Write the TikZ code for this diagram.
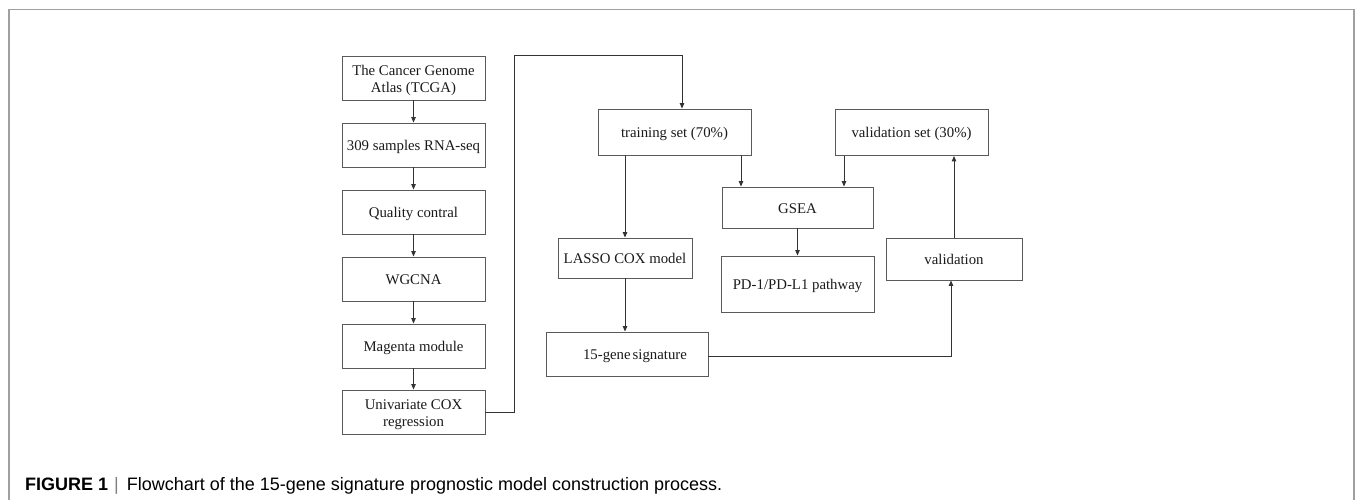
\documentclass[tikz,border=0pt]{standalone}
\usepackage{fontspec}
\setmainfont{Liberation Serif}
\newfontfamily\capfont{Liberation Sans}
\usetikzlibrary{arrows.meta}
\definecolor{boxline}{HTML}{5A5A5A}
\definecolor{conline}{HTML}{333333}
\definecolor{framecol}{HTML}{A0A0A0}
\definecolor{barcol}{HTML}{808080}
\definecolor{txt}{HTML}{1A1A1A}
\tikzset{
  fbox/.style={draw=boxline, line width=0.9pt, rectangle, inner sep=0pt, align=center,
    font=\fontsize{14.8}{17.5}\selectfont, text=txt},
  one/.style={text height=14pt, text depth=3pt},
  arr/.style={draw=conline, line width=0.9pt, -{Triangle[length=5.5pt,width=4.5pt]}},
  con/.style={draw=conline, line width=0.9pt}
}
\begin{document}
\begin{tikzpicture}[x=1pt,y=-1pt]
\useasboundingbox (0,0) rectangle (1355,500);
% frame
\draw[framecol, line width=1.2pt] (9,500) -- (9,9.5) -- (1354,9.5) -- (1354,500);
% left column
\node[fbox, minimum width=143, minimum height=44] (tcga) at (413.5,78) {\rule{0pt}{15pt}The Cancer Genome\\Atlas (TCGA)};
\node[fbox, one, minimum width=143, minimum height=44] (rna) at (413.5,145) {309 samples RNA-seq};
\node[fbox, one, minimum width=143, minimum height=44] (qc) at (413.5,212) {Quality contral};
\node[fbox, one, minimum width=143, minimum height=44] (wgcna) at (413.5,279) {WGCNA};
\node[fbox, one, minimum width=143, minimum height=44] (mag) at (413.5,346) {Magenta module};
\node[fbox, minimum width=143, minimum height=44] (ucox) at (413.5,412) {\rule{0pt}{15pt}Univariate COX\\regression};
% right part
\node[fbox, one, minimum width=153, minimum height=46] (train) at (674.5,132) {training set (70\%)};
\node[fbox, one, minimum width=153, minimum height=46] (vset) at (911.5,132.5) {validation set (30\%)};
\node[fbox, one, minimum width=151, minimum height=41] (gsea) at (797.5,207.5) {GSEA};
\node[fbox, one, minimum width=134, minimum height=40] (lasso) at (625,258) {LASSO COX model};
\node[fbox, one, minimum width=153, minimum height=56] (pd1) at (797.5,284) {PD-1/PD-L1 pathway};
\node[fbox, one, minimum width=136, minimum height=42] (valid) at (954,259) {validation};
\node[fbox, one, minimum width=162, minimum height=44] (sig) at (627,354) {\hspace*{16pt}15-gene\hspace{2pt}signature};
% left column arrows
\draw[arr] (tcga) -- (rna);
\draw[arr] (rna) -- (qc);
\draw[arr] (qc) -- (wgcna);
\draw[arr] (wgcna) -- (mag);
\draw[arr] (mag) -- (ucox);
% univariate -> training
\coordinate (c1) at ([xshift=29pt]ucox.east);
\coordinate (c2) at ([xshift=7.5pt]train.north);
\draw[arr] (ucox.east) -- (c1) -- (c1 |- tcga.north) -- (c2 |- tcga.north) -- (c2);
% training -> lasso, gsea
\draw[arr] (train.south -| lasso.north) -- (lasso.north);
\coordinate (t2) at ([xshift=66.5pt]train.south);
\draw[arr] (t2) -- (t2 |- gsea.north);
\coordinate (v2) at ([xshift=-67.5pt]vset.south);
\draw[arr] (v2) -- (v2 |- gsea.north);
\draw[arr] (gsea) -- (pd1);
\draw[arr] (lasso.south) -- (lasso.south |- sig.north);
% signature -> validation
\coordinate (s2) at ([xshift=-3pt]valid.south);
\draw[arr] ([yshift=-2pt]sig.east) -- ([yshift=-2pt]sig.east -| s2) -- (s2);
\draw[arr] (valid.north) -- (valid.north |- vset.south);
% caption
\node[anchor=base west, inner sep=0pt, font=\capfont\fontsize{18}{20}\selectfont, text=black] (cap) at (25,490)
  {{\bfseries FIGURE 1}\hspace{6pt}{\color{barcol}|}\hspace{8pt}Flowchart of the 15-gene signature prognostic model construction process.};
\end{tikzpicture}
\end{document}
